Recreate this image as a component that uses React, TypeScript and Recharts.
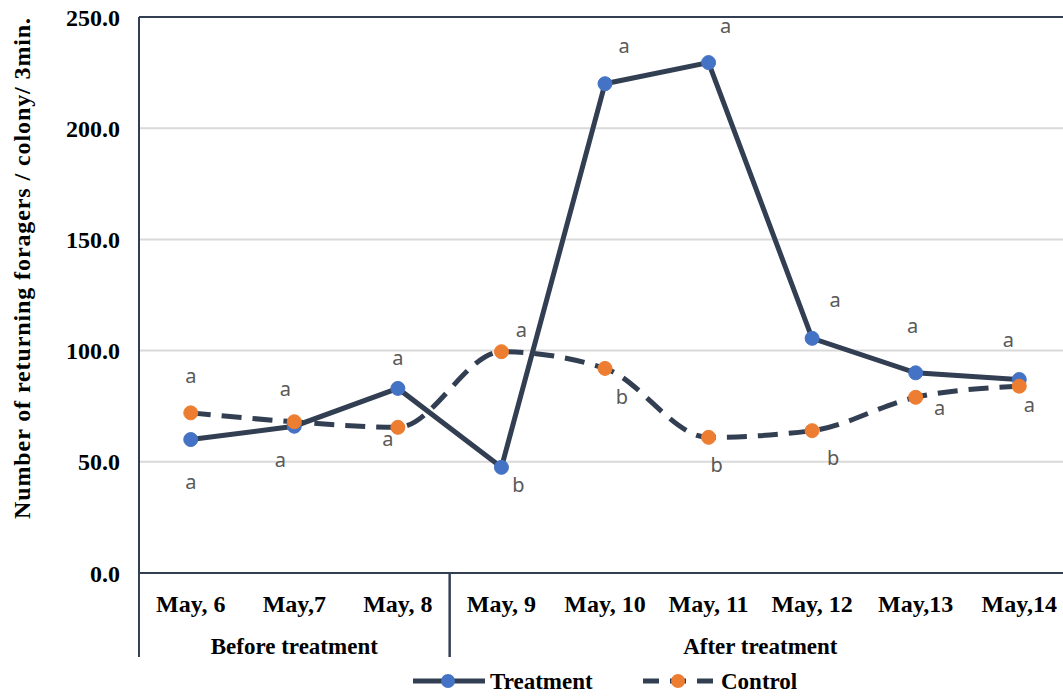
import React from "react";
import {
  LineChart,
  Line,
  XAxis,
  YAxis,
  CartesianGrid,
  ReferenceLine,
  ReferenceArea,
  LabelList,
  Legend,
} from "recharts";

// ---- data ----
const categories = ["May, 6", "May,7", "May, 8", "May, 9", "May, 10", "May, 11", "May, 12", "May,13", "May,14"];
const treatmentValues = [60, 66, 83, 47.5, 220, 229.5, 105.5, 90, 87];
const controlValues = [72, 68, 65.5, 99.5, 92, 61, 64, 79, 84];
const treatmentLetters = ["a", "a", "a", "b", "a", "a", "a", "a", "a"];
const controlLetters = ["a", "a", "a", "a", "b", "b", "b", "a", "a"];
const groupNames = ["Before treatment", "After treatment"];
const groupFirst = ["May, 6", "May, 9"];
const groupLast = ["May, 8", "May,14"];
const yTicks = [0, 50, 100, 150, 200, 250];
const seriesNames = ["Treatment", "Control"];
const yTitle = "Number of returning  foragers / colony/ 3min.";

// ---- style ----
const DARK = "#323e52";
const BLUE = "#4472C4";
const ORANGE = "#ED7D31";
const GRID = "#d9d9d9";
const LETTER = "#595959";
const SERIF = "'Liberation Serif', 'Times New Roman', serif";
const SANS = "'Noto Sans', 'Open Sans', sans-serif";
const HALF_STEP = 51.75;

// label placement offsets (dx, dy) relative to each point
const treatmentLabelOffsets = [[0, 44], [-14, 35], [0, -29], [17, 17], [19, -36], [17, -35], [23, -37], [-3, -45], [-11, -38]];
const controlLabelOffsets = [[0, -35], [-9, -31], [-10, 13], [20, -20], [17, 28], [8, 27], [21, 27], [24, 12], [10, 20]];

const data = categories.map((c, i) => ({
  date: c,
  treatment: treatmentValues[i],
  control: controlValues[i],
}));

const makeLetterLabel = (letters: string[], offsets: number[][]) => (props: any) => {
  const { x, y, index } = props;
  if (x == null || y == null || index == null) return null;
  const [dx, dy] = offsets[index];
  const ch = letters[index];
  return (
    <text
      x={x + dx}
      y={y + dy}
      dy={ch === "b" ? "0.36em" : "0.27em"}
      textAnchor="middle"
      fill={LETTER}
      fontFamily={SANS}
      fontSize={20}
    >
      {ch}
    </text>
  );
};

const makeGroupShape = (name: string, idx: number) => (props: any) => {
  const { x, y, width, height } = props;
  const n = categories.indexOf(groupLast[idx]) - categories.indexOf(groupFirst[idx]);
  const step = n > 0 ? width / n : 2 * HALF_STEP;
  const left = x - step / 2;
  const right = x + width + step / 2;
  const bottom = y + height;
  return (
    <g>
      <line x1={left} x2={left} y1={bottom} y2={bottom + 84} stroke={DARK} strokeWidth={2} />
      <line x1={right} x2={right} y1={bottom} y2={bottom + 84} stroke={DARK} strokeWidth={2} />
      <text
        x={(left + right) / 2}
        y={bottom + 81}
        textAnchor="middle"
        fill="#000"
        fontFamily={SERIF}
        fontWeight="bold"
        fontSize={23}
      >
        {name}
      </text>
    </g>
  );
};

const renderLegend = () => (
  <svg width={1063} height={30} style={{ display: "block" }}>
    <line x1={413} x2={485} y1={15} y2={15} stroke={DARK} strokeWidth={5} />
    <circle cx={448} cy={15} r={7} fill={BLUE} />
    <text x={490} y={23} fontFamily={SERIF} fontWeight="bold" fontSize={23} fill="#000">
      {seriesNames[0]}
    </text>
    <line x1={643} x2={713} y1={15} y2={15} stroke={DARK} strokeWidth={5} strokeDasharray="16 11" />
    <circle cx={678} cy={15} r={7} fill={ORANGE} />
    <text x={721} y={23} fontFamily={SERIF} fontWeight="bold" fontSize={23} fill="#000">
      {seriesNames[1]}
    </text>
  </svg>
);

const YTitle = (props: any) => {
  const { viewBox } = props;
  const cx = 22;
  const cy = viewBox.y + viewBox.height / 2 - 27;
  return (
    <text
      x={cx}
      y={cy}
      transform={`rotate(-90, ${cx}, ${cy})`}
      textAnchor="middle"
      dominantBaseline="central"
      fontFamily={SERIF}
      fontWeight="bold"
      fontSize={24}
      letterSpacing={0.9}
      fill="#000"
    >
      {yTitle}
    </text>
  );
};

export default function App() {
  return (
    <div
      style={{
        position: "fixed",
        left: 0,
        top: 0,
        width: 1063,
        height: 696,
        overflow: "hidden",
        background: "#fff",
      }}
    >
      <LineChart
        width={1071}
        height={696}
        data={data}
        margin={{ top: 17, right: 0, bottom: 0, left: 0 }}
      >
        <CartesianGrid horizontal vertical={false} stroke={GRID} strokeWidth={2} />
        <XAxis
          dataKey="date"
          height={93}
          padding={{ left: HALF_STEP, right: HALF_STEP }}
          axisLine={{ stroke: DARK, strokeWidth: 2 }}
          tickLine={false}
          tickSize={0}
          tickMargin={22}
          interval={0}
          tick={{ fill: "#000", fontFamily: SERIF, fontWeight: "bold", fontSize: 24 }}
        />
        <YAxis
          width={139}
          domain={[0, 250]}
          ticks={yTicks}
          interval={0}
          tickFormatter={(v: number) => v.toFixed(1)}
          axisLine={{ stroke: DARK, strokeWidth: 2 }}
          tickLine={false}
          tickSize={0}
          tickMargin={19}
          tick={{ fill: "#000", fontFamily: SERIF, fontWeight: "bold", fontSize: 24 }}
          label={<YTitle />}
        />
        <ReferenceLine y={250} stroke={DARK} strokeWidth={2} ifOverflow="visible" />
        {groupNames.map((g, i) => (
          <ReferenceArea
            key={g}
            x1={groupFirst[i]}
            x2={groupLast[i]}
            y1={0}
            y2={250}
            ifOverflow="visible"
            shape={makeGroupShape(g, i)}
          />
        ))}
        <Legend
          verticalAlign="bottom"
          align="left"
          content={renderLegend}
          wrapperStyle={{ left: 0, bottom: 0, width: 1063, height: 30 }}
        />
        <Line
          name={seriesNames[0]}
          dataKey="treatment"
          type="linear"
          stroke={DARK}
          strokeWidth={5}
          dot={{ r: 7, fill: BLUE, stroke: BLUE, strokeWidth: 1 }}
          activeDot={false}
          isAnimationActive={false}
        >
          <LabelList dataKey="treatment" content={makeLetterLabel(treatmentLetters, treatmentLabelOffsets)} />
        </Line>
        <Line
          name={seriesNames[1]}
          dataKey="control"
          type="monotone"
          stroke={DARK}
          strokeWidth={5}
          strokeDasharray="20 11"
          dot={{ r: 7, fill: ORANGE, stroke: ORANGE, strokeWidth: 1, strokeDasharray: "" }}
          activeDot={false}
          isAnimationActive={false}
        >
          <LabelList dataKey="control" content={makeLetterLabel(controlLetters, controlLabelOffsets)} />
        </Line>
      </LineChart>
    </div>
  );
}
